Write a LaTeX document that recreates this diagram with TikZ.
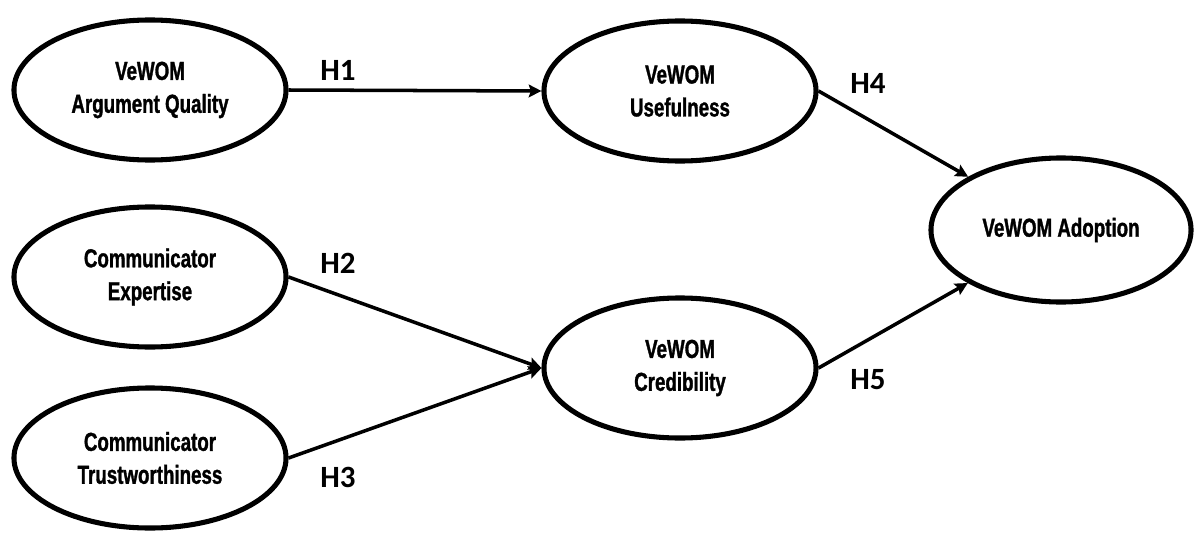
\documentclass[tikz,border=0pt]{standalone}
\usepackage{fontspec}
\usetikzlibrary{shapes.geometric}
\usetikzlibrary{arrows.meta}
\newfontfamily\condfont[FakeStretch=0.72, BoldFeatures={FakeBold=1.2}]{Liberation Sans}
\newfontfamily\hypfont{Carlito}

\begin{document}
\begin{tikzpicture}[x=0.025cm,y=0.025cm,
  construct/.style={ellipse, draw, line width=3.6pt, minimum width=6.8cm,
    minimum height=3.5cm, inner sep=0pt, align=center,
    font=\condfont\bfseries\fontsize{18.5}{23.4}\selectfont},
  link/.style={line width=2.5pt, -{Stealth[length=9pt,width=9pt,inset=1.5pt]}},
  hyp/.style={font=\hypfont\bfseries\fontsize{22}{26}\selectfont}]
\useasboundingbox (0,0) rectangle (1195,535);

% constructs
\node [construct] (quality) at (150,445) {VeWOM\\Argument Quality};
\node [construct] (useful) at (680,444) {VeWOM\\Usefulness};
\node [construct] (expert) at (150,258) {Communicator\\Expertise};
\node [construct] (cred) at (680,167) {VeWOM\\Credibility};
\node [construct] (trust) at (150,77) {Communicator\\Trustworthiness};
\node [construct, minimum width=6.5cm, minimum height=3.6cm] (adopt) at (1061,305) {VeWOM Adoption};

% hypotheses
\draw [link] (quality.east) -- (useful.west);
\draw [link] (expert.east) -- (cred.west);
\draw [link] (trust.east) -- (cred.west);
\draw [link] (useful.east) -- (adopt);
\draw [link] (cred.east) -- (adopt);

\node [hyp] (h1) at (338,465) {H1};
\node [hyp] (h2) at (338,272) {H2};
\node [hyp] (h3) at (338,58) {H3};
\node [hyp] (h4) at (868,452) {H4};
\node [hyp] (h5) at (868,155) {H5};
\end{tikzpicture}
\end{document}
